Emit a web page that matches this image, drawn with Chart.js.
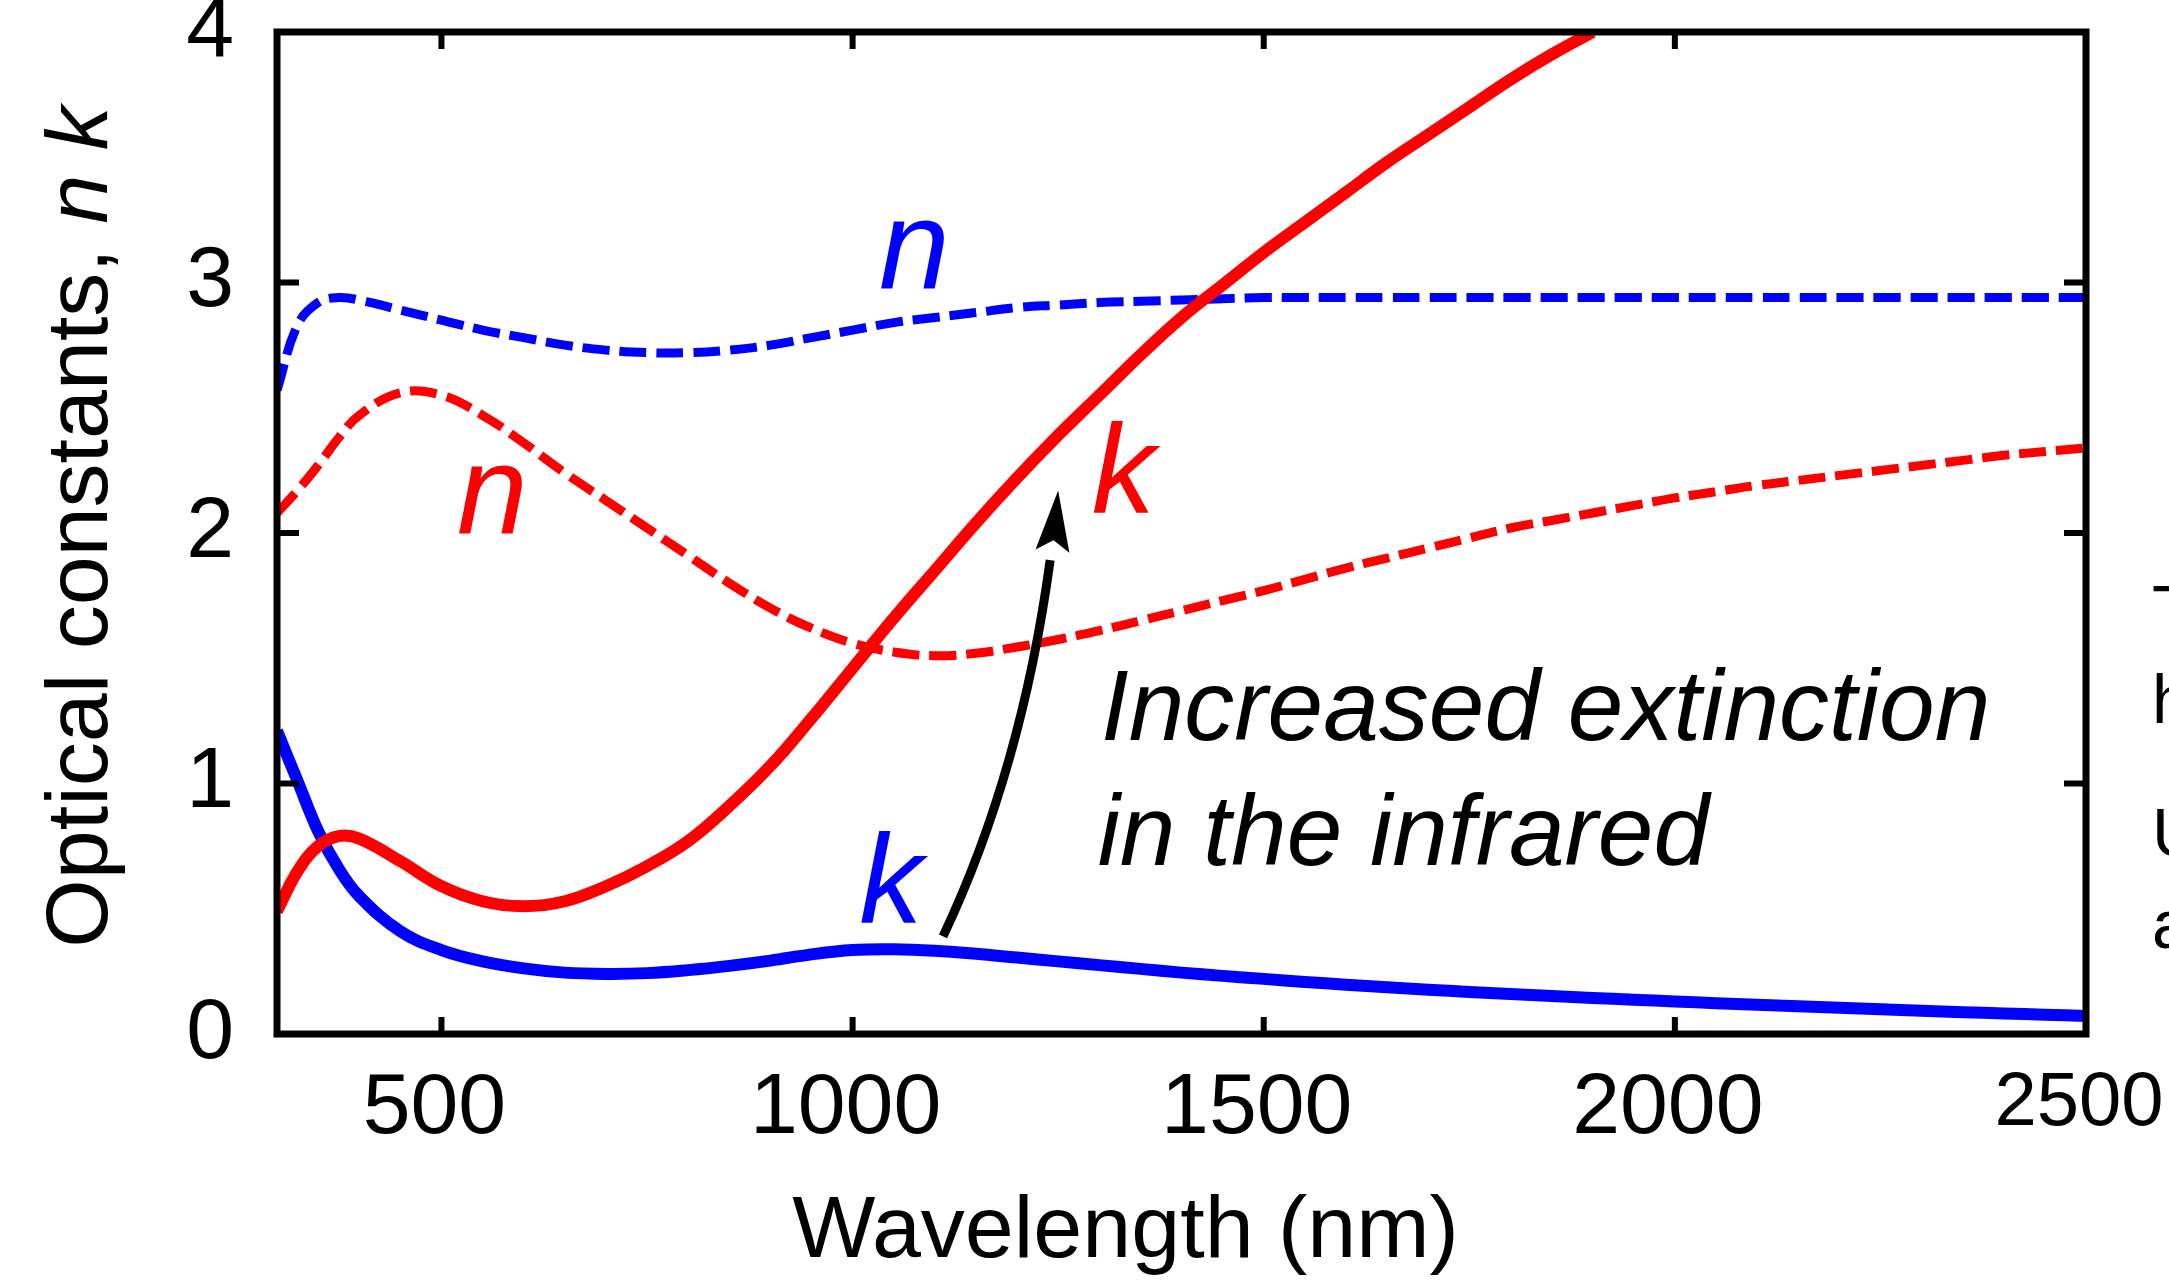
<!DOCTYPE html>
<html>
<head>
<meta charset="utf-8">
<script src="https://cdn.jsdelivr.net/npm/chart.js@4.4.1/dist/chart.umd.min.js"></script>
<style>
  html, body { margin: 0; padding: 0; background: #fff; }
  #wrap { width: 2169px; height: 1288px; }
</style>
</head>
<body>
<div id="wrap"><canvas id="chart" width="2169" height="1288"></canvas></div>
<script>
// wavelength grid (nm) and values
const wavelengths = [300, 325, 350, 375, 400, 450, 500, 550, 600, 650, 700, 750, 800, 850, 900, 950, 1000, 1050, 1100, 1150, 1200, 1250, 1300, 1350, 1400, 1450, 1500, 1550, 1600, 1650, 1700, 1750, 1800, 1850, 1900, 1950, 2000, 2050, 2100, 2150, 2200, 2250, 2300, 2350, 2400, 2450, 2500];
const nBlue = [2.57, 2.83, 2.92, 2.94, 2.93, 2.89, 2.85, 2.81, 2.78, 2.75, 2.73, 2.72, 2.72, 2.73, 2.75, 2.78, 2.81, 2.84, 2.86, 2.88, 2.90, 2.91, 2.92, 2.925, 2.93, 2.935, 2.94, 2.94, 2.94, 2.94, 2.94, 2.94, 2.94, 2.94, 2.94, 2.94, 2.94, 2.94, 2.94, 2.94, 2.94, 2.94, 2.94, 2.94, 2.94, 2.94, 2.94];
const kBlue = [1.21, 1.01, 0.81, 0.66, 0.55, 0.41, 0.335, 0.29, 0.262, 0.245, 0.24, 0.243, 0.255, 0.272, 0.293, 0.318, 0.335, 0.338, 0.332, 0.32, 0.305, 0.29, 0.275, 0.26, 0.245, 0.232, 0.22, 0.208, 0.197, 0.187, 0.177, 0.168, 0.16, 0.152, 0.144, 0.137, 0.13, 0.123, 0.117, 0.111, 0.105, 0.099, 0.093, 0.087, 0.082, 0.077, 0.072];
const nRed = [2.08, 2.17, 2.27, 2.38, 2.47, 2.56, 2.55, 2.47, 2.36, 2.24, 2.13, 2.02, 1.91, 1.80, 1.70, 1.62, 1.56, 1.525, 1.51, 1.52, 1.545, 1.575, 1.61, 1.65, 1.69, 1.73, 1.77, 1.815, 1.86, 1.90, 1.94, 1.98, 2.02, 2.05, 2.08, 2.11, 2.14, 2.165, 2.19, 2.21, 2.23, 2.25, 2.27, 2.29, 2.31, 2.325, 2.34];
const kRed = [0.49, 0.65, 0.75, 0.79, 0.78, 0.69, 0.59, 0.53, 0.51, 0.53, 0.59, 0.67, 0.77, 0.91, 1.07, 1.26, 1.46, 1.66, 1.85, 2.04, 2.22, 2.39, 2.55, 2.71, 2.86, 2.99, 3.12, 3.24, 3.36, 3.48, 3.59, 3.70, 3.81, 3.91, 4.0, null, null, null, null, null, null, null, null, null, null, null, null];

const xTicks = [500, 1000, 1500, 2000, 2500];
const yTicks = [0, 1, 2, 3, 4];

// in-plot labels, anchored in data units [wavelength, value]
const curveLabels = [
	{ text: 'n', at: [1032, 2.98], color: '#0000ff' },
	{ text: 'n', at: [519, 2.0], color: '#ff0000' },
	{ text: 'k', at: [1291, 2.08], color: '#ff0000' },
	{ text: 'k', at: [1008, 0.443], color: '#0000ff' },
];
const noteLines = [
	{ text: 'Increased extinction', at: [1302, 1.174] },
	{ text: 'in the infrared', at: [1298, 0.675] },
];
const arrowTail = [1110, 0.39];
const arrowBend = [1221, 1.16];
const arrowTip = [1250, 2.17];

// clipped letters from the neighbouring text column
const sideLetters = [
	{ text: 'T', y: 633 },
	{ text: 'h', y: 723 },
	{ text: 'U', y: 856 },
	{ text: 'a', y: 948 },
];

const FONT = '"Liberation Sans", Arial, sans-serif';

function toPoints(values) {
	return wavelengths.map((w, i) => ({ x: w, y: values[i] }));
}

const decorations = {
	id: 'decorations',
	beforeDraw(chart) {
		const { ctx, width, height } = chart;
		ctx.save();
		ctx.fillStyle = '#fff';
		ctx.fillRect(0, 0, width, height);
		ctx.restore();
	},
	afterDraw(chart) {
		const { ctx, chartArea: a, scales } = chart;
		const x = scales.x;
		const y = scales.y;
		const px = (p) => [x.getPixelForValue(p[0]), y.getPixelForValue(p[1])];

		ctx.save();

		// arrow
		const p0 = px(arrowTail);
		const c = px(arrowBend);
		const p2 = px(arrowTip);
		let dx = p2[0] - c[0];
		let dy = p2[1] - c[1];
		const len = Math.hypot(dx, dy);
		dx /= len;
		dy /= len;
		const headLen = 61;
		const base = [p2[0] - dx * headLen, p2[1] - dy * headLen];
		// shorten the shaft so it ends inside the head
		const t = 0.86;
		const q1 = [p0[0] + t * (c[0] - p0[0]), p0[1] + t * (c[1] - p0[1])];
		const end = [
			(1 - t) * (1 - t) * p0[0] + 2 * (1 - t) * t * c[0] + t * t * p2[0],
			(1 - t) * (1 - t) * p0[1] + 2 * (1 - t) * t * c[1] + t * t * p2[1],
		];
		ctx.strokeStyle = '#000';
		ctx.lineWidth = 9;
		ctx.beginPath();
		ctx.moveTo(p0[0], p0[1]);
		ctx.quadraticCurveTo(q1[0], q1[1], end[0], end[1]);
		ctx.stroke();
		const nx = -dy;
		const ny = dx;
		ctx.fillStyle = '#000';
		ctx.beginPath();
		ctx.moveTo(p2[0], p2[1]);
		ctx.lineTo(base[0] + nx * 17, base[1] + ny * 17);
		ctx.lineTo(base[0] + dx * 11, base[1] + dy * 11);
		ctx.lineTo(base[0] - nx * 17, base[1] - ny * 17);
		ctx.closePath();
		ctx.fill();

		// frame with inward ticks on all four sides
		ctx.strokeStyle = '#000';
		ctx.lineWidth = 6;
		ctx.beginPath();
		x.ticks.forEach((tk) => {
			const xp = x.getPixelForValue(tk.value);
			ctx.moveTo(xp, a.bottom);
			ctx.lineTo(xp, a.bottom - 17);
			ctx.moveTo(xp, a.top);
			ctx.lineTo(xp, a.top + 17);
		});
		y.ticks.forEach((tk) => {
			const yp = y.getPixelForValue(tk.value);
			ctx.moveTo(a.left, yp);
			ctx.lineTo(a.left + 22, yp);
			ctx.moveTo(a.right, yp);
			ctx.lineTo(a.right - 22, yp);
		});
		ctx.stroke();
		ctx.lineWidth = 7;
		ctx.strokeRect(a.left, a.top, a.right - a.left, a.bottom - a.top);

		// curve labels
		ctx.textAlign = 'left';
		ctx.textBaseline = 'alphabetic';
		ctx.font = 'italic 127px ' + FONT;
		curveLabels.forEach((l) => {
			const p = px(l.at);
			ctx.fillStyle = l.color;
			ctx.fillText(l.text, p[0], p[1]);
		});

		ctx.font = 'italic 100px ' + FONT;
		ctx.fillStyle = '#000';
		noteLines.forEach((l) => {
			const p = px(l.at);
			ctx.fillText(l.text, p[0], p[1]);
		});

		// x axis title
		ctx.font = '88px ' + FONT;
		ctx.textAlign = 'center';
		ctx.fillText('Wavelength (nm)', (a.left + a.right) / 2 - 56, a.bottom + 223);

		// y axis title, mixed upright / italic
		const plain = 'Optical constants, ';
		const ital = 'n k';
		ctx.font = '88px ' + FONT;
		const w1 = ctx.measureText(plain).width;
		ctx.font = 'italic 88px ' + FONT;
		const w2 = ctx.measureText(ital).width;
		ctx.translate(a.left - 170, (a.top + a.bottom) / 2 - 6);
		ctx.rotate(-Math.PI / 2);
		ctx.textAlign = 'left';
		ctx.font = '88px ' + FONT;
		ctx.fillText(plain, -(w1 + w2) / 2, 0);
		ctx.font = 'italic 88px ' + FONT;
		ctx.fillText(ital, -(w1 + w2) / 2 + w1, 0);
		ctx.setTransform(1, 0, 0, 1, 0, 0);

		// letters cut off at the right edge
		ctx.font = '68px ' + FONT;
		ctx.textAlign = 'left';
		sideLetters.forEach((l) => {
			ctx.fillText(l.text, a.right + 66, l.y);
		});

		ctx.restore();
	},
};

function createChart() {
	const ctx = document.getElementById('chart').getContext('2d');
	new Chart(ctx, {
		type: 'line',
		data: {
			datasets: [
				{ label: 'k (red)', data: toPoints(kRed), borderColor: '#ff0000', borderWidth: 12 },
				{ label: 'k (blue)', data: toPoints(kBlue), borderColor: '#0000ff', borderWidth: 12 },
				{ label: 'n (red)', data: toPoints(nRed), borderColor: '#ff0000', borderWidth: 9, borderDash: [27, 10] },
				{ label: 'n (blue)', data: toPoints(nBlue), borderColor: '#0000ff', borderWidth: 9, borderDash: [27, 10] },
			],
		},
		options: {
			responsive: false,
			animation: false,
			devicePixelRatio: 1,
			layout: { padding: { left: 0, top: 32, right: 83, bottom: 0 } },
			elements: {
				point: { radius: 0, hoverRadius: 0 },
				line: { tension: 0.4, fill: false, spanGaps: false },
			},
			plugins: {
				legend: { display: false },
				tooltip: { enabled: false },
			},
			events: [],
			scales: {
				x: {
					type: 'linear',
					min: 300,
					max: 2500,
					grid: { display: false, drawTicks: false },
					border: { display: false },
					afterBuildTicks: (scale) => {
						scale.ticks = xTicks.map((v) => ({ value: v }));
					},
					afterFit: (scale) => {
						scale.height = 254;
						scale.paddingLeft = 0;
						scale.paddingRight = 0;
					},
					ticks: {
						autoSkip: false,
						maxRotation: 0,
						padding: 24,
						labelOffset: -7,
						color: '#000',
						font: (c) => ({ family: FONT, size: c.tick && c.tick.value === 2500 ? 76 : 86 }),
						callback: (v) => String(v),
					},
				},
				y: {
					type: 'linear',
					min: 0,
					max: 4,
					grid: { display: false, drawTicks: false },
					border: { display: false },
					afterBuildTicks: (scale) => {
						scale.ticks = yTicks.map((v) => ({ value: v }));
					},
					afterFit: (scale) => {
						scale.width = 277;
						scale.paddingTop = 0;
						scale.paddingBottom = 0;
					},
					ticks: {
						padding: 43,
						color: '#000',
						font: { family: FONT, size: 86 },
					},
				},
			},
		},
		plugins: [decorations],
	});
}

document.addEventListener('DOMContentLoaded', createChart);
</script>
</body>
</html>
